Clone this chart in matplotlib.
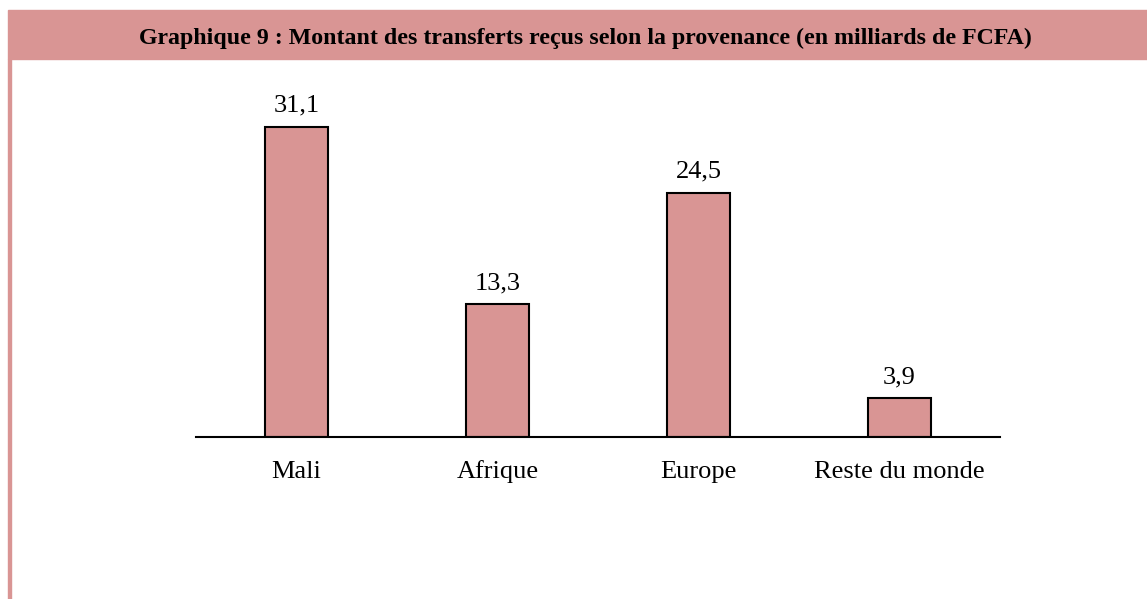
import matplotlib.pyplot as plt
from matplotlib.patches import Rectangle

categories = ['Mali', 'Afrique', 'Europe', 'Reste du monde']
montants = [31.1, 13.3, 24.5, 3.9]
labels = ['31,1', '13,3', '24,5', '3,9']

rose = '#D99594'
W, H = 1147, 599

plt.rcParams['font.family'] = ['Liberation Serif', 'DejaVu Serif']

fig = plt.figure(figsize=(W / 100, H / 100), dpi=100)

# bandeau du titre + filet gauche
fig.patches.append(Rectangle((8 / W, 1 - 59 / H), 1 - 8 / W, 49 / H,
                             transform=fig.transFigure, color=rose, zorder=0))
fig.patches.append(Rectangle((8 / W, 0), 3 / W, 1 - 59 / H,
                             transform=fig.transFigure, color=rose, zorder=0))
fig.text(585 / W, 1 - 44 / H,
         'Graphique 9 : Montant des transferts reçus selon la provenance (en milliards de FCFA)',
         ha='center', va='baseline', fontsize=17.2, fontweight='bold')

ax = fig.add_axes([196 / W, 1 - 437 / H, 804 / W, 349 / H])
x = list(range(len(categories)))
bars = ax.bar(x, montants, width=0.315, color=rose, edgecolor='black', linewidth=1.5)
for xi, v, lab in zip(x, montants, labels):
    ax.annotate(lab, (xi, v), xytext=(0, 10.8), textcoords='offset points',
                ha='center', va='baseline', fontsize=19)

ax.set_xlim(-0.5, len(categories) - 0.5)
ax.set_ylim(0, 35)
ax.set_xticks(x)
ax.set_xticklabels(categories, fontsize=19, va='baseline')
ax.tick_params(axis='x', length=0, pad=29.5)
ax.set_yticks([])
for side in ['top', 'right', 'left']:
    ax.spines[side].set_visible(False)
ax.spines['bottom'].set_linewidth(1.5)

fig.savefig('out.png', dpi=100)
